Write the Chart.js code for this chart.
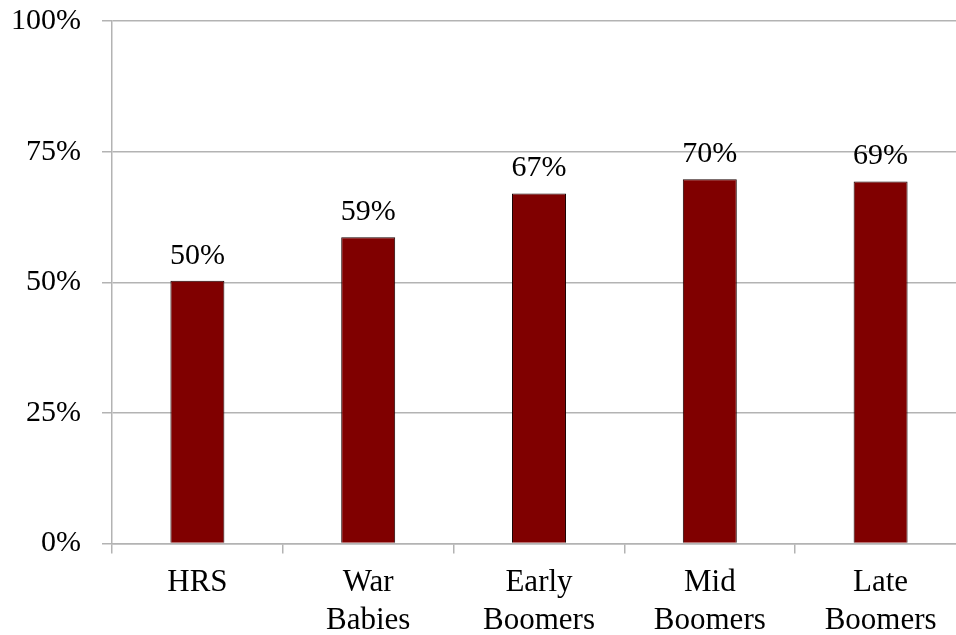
<!DOCTYPE html>
<html>
<head>
<meta charset="utf-8">
<script src="https://cdn.jsdelivr.net/npm/chart.js@4"></script>
<style>
  html, body { margin: 0; padding: 0; background: #fff; overflow: hidden; }
  #wrap { width: 956px; height: 635px; overflow: hidden; }
  #barChart { margin-top: -18px; display: block; }
</style>
</head>
<body>
<div id="wrap"><canvas id="barChart" width="990" height="653"></canvas></div>
<script>
// categories (two-line labels) and the share for each group
var cohorts = [["HRS"], ["War", "Babies"], ["Early", "Boomers"], ["Mid", "Boomers"], ["Late", "Boomers"]];
var shares = [50.3, 58.6, 67.0, 69.7, 69.3];
var yTicks = [0, 25, 50, 75, 100];

var serif = "'Liberation Serif', 'Times New Roman', serif";

// draws the % value above each bar
var valueLabels = {
  id: 'valueLabels',
  afterDatasetsDraw: function(chart) {
    var ctx = chart.ctx;
    var meta = chart.getDatasetMeta(0);
    ctx.save();
    ctx.font = "30px " + serif;
    ctx.fillStyle = "#000";
    ctx.textAlign = "center";
    ctx.textBaseline = "middle";
    meta.data.forEach(function(bar, i) {
      ctx.fillText(Math.round(shares[i]) + "%", bar.x, bar.y - 25);
    });
    ctx.restore();
  }
};

var barChart = new Chart(document.getElementById('barChart'), {
  type: 'bar',
  data: {
    labels: cohorts,
    datasets: [{
      data: shares,
      backgroundColor: "#800000",
      borderColor: "#1a0000",
      borderWidth: 1,
      barPercentage: 0.316,
      categoryPercentage: 1.0
    }]
  },
  options: {
    responsive: false,
    animation: false,
    layout: { padding: { top: 0, left: 12, right: 24, bottom: 0 } },
    plugins: {
      legend: { display: false },
      tooltip: { enabled: false }
    },
    scales: {
      y: {
        min: 0,
        max: 100,
        afterBuildTicks: function(scale) {
          scale.ticks = yTicks.map(function(v) { return { value: v }; });
        },
        afterFit: function(scale) { scale.width = 100; },
        ticks: {
          font: { family: serif, size: 30 },
          color: "#000",
          padding: 21,
          callback: function(v) { return v + "%"; }
        },
        grid: { color: "#b3b3b3", lineWidth: 1.5, tickLength: 10 },
        border: { color: "#b3b3b3", width: 1.5 }
      },
      x: {
        afterFit: function(scale) { scale.height = 91.5; },
        ticks: {
          font: { family: serif, size: 31, lineHeight: 1.23 },
          color: "#000",
          padding: 10,
          maxRotation: 0
        },
        grid: { drawOnChartArea: false, color: "#b3b3b3", lineWidth: 1.5, tickLength: 10, offset: true },
        border: { color: "#b3b3b3", width: 1.5 }
      }
    }
  },
  plugins: [valueLabels]
});
</script>
</body>
</html>
